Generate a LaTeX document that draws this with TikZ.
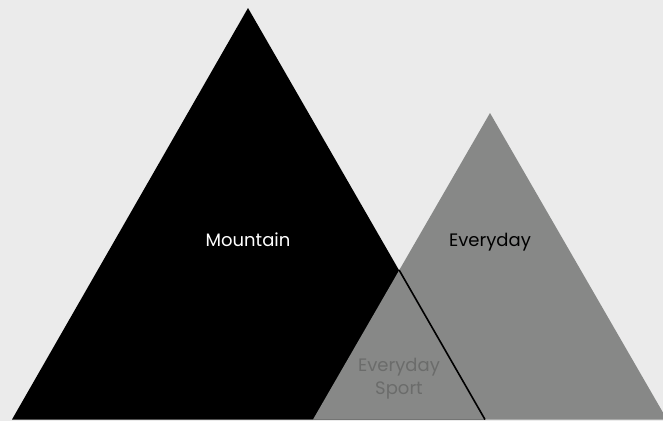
\documentclass[tikz,border=0pt]{standalone}
\usepackage{fontspec}
\setmainfont{Poppins}
\definecolor{bg}{HTML}{EBEBEB}
\definecolor{mgray}{HTML}{878887}
\definecolor{tgray}{HTML}{6B6C6B}
\begin{document}
\begin{tikzpicture}[x=0.75pt,y=-0.75pt,
  lbl/.style={font=\fontsize{13.5}{17.5}\selectfont, align=center, inner sep=0pt}]
\fill[bg] (0,0) rectangle (663,421);
\useasboundingbox (0,0) rectangle (663,421);
% coordinates
\coordinate (bA) at (248,8);
\coordinate (bL) at (12,419.5);
\coordinate (bR) at (485,419.5);
\coordinate (gA) at (490,113);
\coordinate (gL) at (313,419.5);
\coordinate (gR) at (667,419.5);
\coordinate (X) at (399.1,270);
% mountain
\fill[black] (bA) -- (bL) -- (bR) -- cycle;
% everyday
\fill[mgray] (gA) -- (gL) -- (gR) -- cycle;
% edge of mountain in overlap
\draw[black, line width=1.2pt] (X) -- (bR);
% labels
\node[lbl, text=white, anchor=base] (m) at (248,246) {Mountain};
\node[lbl, text=black, anchor=base] (e) at (490,246) {Everyday};
\node[lbl, text=tgray] (s) at (399,379) {Everyday\\Sport};
\end{tikzpicture}
\end{document}
